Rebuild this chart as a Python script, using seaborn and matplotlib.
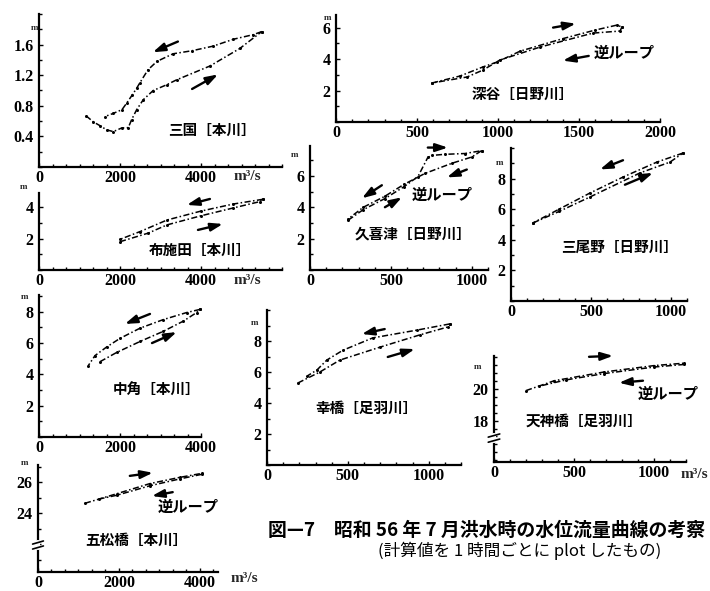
import matplotlib
matplotlib.use("Agg")
import matplotlib.pyplot as plt
import matplotlib.transforms as mtransforms
from matplotlib.ticker import MultipleLocator
import seaborn as sns

sns.set_theme(style="ticks")
plt.rcParams["font.family"] = ["Noto Sans CJK JP", "DejaVu Sans"]

W, H, DPI = 710, 591, 100

# ---- hourly computed stage (m) vs discharge (m3/s), rising and falling limbs ----
# 三国 [本川]
MIKUNI_RISE_Q = [1160, 1341, 1506, 1671, 1834, 2042, 2205, 2288, 2412, 2575, 2820,
                 3153, 3400, 4220, 4960, 5500]
MIKUNI_RISE_H = [0.67, 0.59, 0.54, 0.485, 0.463, 0.51, 0.515, 0.62, 0.75, 0.88, 1.00,
                 1.075, 1.14, 1.32, 1.55, 1.77]
MIKUNI_FALL_Q = [5500, 5290, 4800, 4300, 3780, 3310, 2910, 2690, 2490, 2412, 2300,
                 2165, 2050, 1830, 1630]
MIKUNI_FALL_H = [1.77, 1.73, 1.67, 1.58, 1.52, 1.48, 1.38, 1.27, 1.10, 1.03, 0.94,
                 0.835, 0.75, 0.70, 0.66]

# 深谷 [日野川]
FUKAYA_RISE_Q = [593, 765, 907, 994, 1136, 1401, 1599, 1735, 1765]
FUKAYA_RISE_H = [2.48, 2.92, 3.50, 3.81, 4.50, 5.30, 5.84, 6.16, 6.03]
FUKAYA_FALL_Q = [1765, 1753, 1586, 1259, 1012, 907, 809, 593]
FUKAYA_FALL_H = [6.03, 5.78, 5.65, 4.76, 3.94, 3.30, 2.86, 2.48]

# 布施田 [本川]
FUSEDA_RISE_Q = [2000, 2700, 3160, 4000, 4800, 5450, 5530]
FUSEDA_RISE_H = [1.80, 2.35, 2.87, 3.45, 3.95, 4.35, 4.50]
FUSEDA_FALL_Q = [5530, 4800, 4000, 3160, 2500, 2000]
FUSEDA_FALL_H = [4.50, 4.20, 3.75, 3.18, 2.45, 1.95]

# 久喜津 [日野川]
KUKIZU_RISE_Q = [235, 330, 463, 580, 667, 728, 753, 833, 957, 1060]
KUKIZU_RISE_H = [3.17, 3.85, 4.55, 5.30, 5.95, 7.17, 7.30, 7.37, 7.42, 7.60]
KUKIZU_FALL_Q = [1060, 1000, 877, 710, 580, 463, 330, 235]
KUKIZU_FALL_H = [7.60, 7.20, 6.80, 6.15, 5.45, 4.70, 4.00, 3.25]

# 三尾野 [日野川]
MIONO_RISE_Q = [137, 300, 494, 806, 994, 1075]
MIONO_RISE_H = [5.10, 5.85, 6.80, 8.37, 9.08, 9.67]
MIONO_FALL_Q = [1075, 912, 700, 494, 300, 137]
MIONO_FALL_H = [9.67, 9.08, 8.10, 7.06, 6.00, 5.10]

# 中角 [本川]
NAKATSUNO_RISE_Q = [1506, 1918, 2494, 3070, 3563, 3893, 3975]
NAKATSUNO_RISE_H = [4.81, 5.40, 6.10, 6.75, 7.40, 7.95, 8.15]
NAKATSUNO_FALL_Q = [3975, 3647, 3070, 2494, 2000, 1671, 1383, 1217]
NAKATSUNO_FALL_H = [8.15, 7.95, 7.50, 6.95, 6.30, 5.75, 5.20, 4.56]

# 幸橋 [足羽川]
SAIWAI_RISE_Q = [191, 327, 451, 698, 944, 1117, 1130]
SAIWAI_RISE_H = [5.29, 6.00, 6.77, 7.60, 8.39, 8.90, 9.10]
SAIWAI_FALL_Q = [1130, 926, 654, 469, 370, 309, 250]
SAIWAI_FALL_H = [9.10, 8.70, 8.20, 7.40, 6.77, 6.13, 5.75]

# 天神橋 [足羽川]
TENJIN_RISE_Q = [200, 377, 690, 1002, 1190]
TENJIN_RISE_H = [19.88, 20.50, 21.05, 21.45, 21.60]
TENJIN_FALL_Q = [1190, 1002, 690, 450, 280]
TENJIN_FALL_H = [21.52, 21.36, 20.95, 20.55, 20.15]

# 五松橋 [本川]
GOMATSU_RISE_Q = [1160, 1950, 2765, 3500, 4050]
GOMATSU_RISE_H = [24.63, 25.25, 25.90, 26.30, 26.56]
GOMATSU_FALL_Q = [4050, 3500, 2765, 1950, 1500]
GOMATSU_FALL_H = [26.50, 26.20, 25.76, 25.15, 24.90]

STATION_NAMES = ["三国［本川］", "深谷［日野川］", "布施田［本川］", "久喜津［日野川］",
                 "三尾野［日野川］", "中角［本川］", "幸橋［足羽川］", "天神橋［足羽川］",
                 "五松橋［本川］"]
REVERSE_LOOP = "逆ループ"
CAPTION_1 = "図—7　昭和 56 年 7 月洪水時の水位流量曲線の考察"
CAPTION_2 = "(計算値を 1 時間ごとに plot したもの)"

TICK_FONT = {"family": "Liberation Serif", "weight": "bold", "size": 11.5}
CJK = ["Noto Sans CJK JP", "DejaVu Sans"]

fig = plt.figure(figsize=(W / DPI, H / DPI), dpi=DPI)
fig.patch.set_facecolor("white")


def rect(left, top, right, bottom):
    return [left / W, 1 - bottom / H, (right - left) / W, (bottom - top) / H]


def fxy(x, y):
    return x / W, 1 - y / H


def panel(box, xlim, ylim, xticks, yticks, ylabels, xminor, yminor, curves):
    ax = fig.add_axes(rect(*box))
    ax.set_facecolor("white")
    for q, h in curves:
        sns.lineplot(x=q, y=h, sort=False, estimator=None, ax=ax, color="black",
                     lw=1.1, linestyle=(0, (4, 1.6, 1, 1.6)), marker="o",
                     markersize=2.2, markeredgewidth=0)
    ax.set_xlim(*xlim)
    ax.set_ylim(*ylim)
    for s in ("top", "right"):
        ax.spines[s].set_visible(False)
    for s in ("left", "bottom"):
        ax.spines[s].set_linewidth(1.6)
        ax.spines[s].set_color("black")
    ax.set_xticks(xticks)
    ax.set_xticklabels([str(t) for t in xticks], fontdict=TICK_FONT)
    ax.set_yticks(yticks)
    ax.set_yticklabels(ylabels, fontdict=TICK_FONT)
    ax.xaxis.set_minor_locator(MultipleLocator(xminor))
    ax.yaxis.set_minor_locator(MultipleLocator(yminor))
    ax.tick_params(which="both", direction="in", color="black", width=1.0,
                   labelcolor="black")
    ax.tick_params(which="major", length=3)
    ax.tick_params(axis="x", which="major", pad=2)
    ax.tick_params(axis="y", which="major", pad=4)
    ax.tick_params(which="minor", length=2)
    ax.grid(False)
    ax.set_xlabel("")
    ax.set_ylabel("")
    return ax


def arrow(ax, x0, y0, x1, y1):
    ax.annotate("", xy=(x1, y1), xytext=(x0, y0), annotation_clip=False,
                arrowprops=dict(arrowstyle="-|>,head_length=0.6,head_width=0.2",
                                lw=1.7, color="black", shrinkA=0, shrinkB=0))


def label(ax, x, y, text, size=10.5):
    ax.text(x, y, text, ha="center", va="center", fontsize=size,
            fontweight="bold", family=CJK, color="black")


def axis_break(ax, yval, span):
    trans = mtransforms.blended_transform_factory(ax.transAxes, ax.transData)
    ax.plot([0, 0], [yval - span, yval + span], transform=trans, color="white",
            lw=3, clip_on=False, zorder=5)
    for dy in (-span * 0.8, span * 0.8):
        ax.plot([-0.03, 0.03], [yval + dy - span * 0.5, yval + dy + span * 0.5],
                transform=trans, color="black", lw=1.2, clip_on=False, zorder=6)


def unit_m(x, y):
    fig.text(*fxy(x, y), "m", ha="center", va="center", family="Liberation Serif",
             weight="bold", fontsize=6.5)


def unit_flow(x, y):
    fig.text(*fxy(x, y), "m³/s", ha="center", va="center", family="Liberation Serif",
             weight="bold", fontsize=11)


# 三国
ax = panel((39, 14, 282, 167), (0, 6000), (0, 2.0), [0, 2000, 4000],
           [0.4, 0.8, 1.2, 1.6], ["0.4", "0.8", "1.2", "1.6"], 2000 / 6, 0.2,
           [(MIKUNI_RISE_Q, MIKUNI_RISE_H), (MIKUNI_FALL_Q, MIKUNI_FALL_H)])
label(ax, 4270, 0.49, STATION_NAMES[0])
arrow(ax, 3430, 1.64, 2810, 1.50)
arrow(ax, 3780, 1.02, 4420, 1.21)
unit_m(35, 28)
unit_flow(247, 177)

# 深谷
ax = panel((336, 15, 660, 122), (0, 2000), (0, 6.8), [0, 500, 1000, 1500, 2000],
           [2, 4, 6], ["2", "4", "6"], 100, 1,
           [(FUKAYA_RISE_Q, FUKAYA_RISE_H), (FUKAYA_FALL_Q, FUKAYA_FALL_H)])
label(ax, 1154, 1.78, STATION_NAMES[1])
label(ax, 1778, 4.38, REVERSE_LOOP, 11)
arrow(ax, 1340, 6.0, 1480, 6.25)
arrow(ax, 1560, 4.2, 1400, 3.9)
unit_m(328, 18)

# 布施田
ax = panel((39, 193, 282, 270), (0, 6000), (0, 4.9), [0, 2000, 4000],
           [2, 4], ["2", "4"], 2000 / 6, 1,
           [(FUSEDA_RISE_Q, FUSEDA_RISE_H), (FUSEDA_FALL_Q, FUSEDA_FALL_H)])
label(ax, 3975, 1.27, STATION_NAMES[2])
arrow(ax, 4220, 4.52, 3650, 4.14)
arrow(ax, 3925, 2.55, 4540, 2.93)
unit_m(24, 187)
unit_flow(247, 281)

# 久喜津
ax = panel((310, 146, 488, 270), (0, 1100), (0, 7.9), [0, 500, 1000],
           [2, 4, 6], ["2", "4", "6"], 100, 1,
           [(KUKIZU_RISE_Q, KUKIZU_RISE_H), (KUKIZU_FALL_Q, KUKIZU_FALL_H)])
label(ax, 640, 2.35, STATION_NAMES[3])
label(ax, 815, 4.76, REVERSE_LOOP, 11)
arrow(ax, 728, 7.8, 852, 7.8)
arrow(ax, 969, 6.4, 846, 5.9)
arrow(ax, 444, 5.4, 321, 4.57)
arrow(ax, 463, 4.0, 568, 4.63)
unit_m(295, 155)

# 三尾野
ax = panel((511, 148, 687, 301), (0, 1100), (0, 10), [0, 500, 1000],
           [2, 4, 6, 8], ["2", "4", "6", "8"], 100, 1,
           [(MIONO_RISE_Q, MIONO_RISE_H), (MIONO_FALL_Q, MIONO_FALL_H)])
label(ax, 681, 3.53, STATION_NAMES[4])
arrow(ax, 700, 9.2, 556, 8.6)
arrow(ax, 712, 7.6, 887, 8.37)
unit_m(500, 163)

# 中角
ax = panel((39, 295, 201, 437), (0, 4000), (0, 9.07), [0, 2000, 4000],
           [2, 4, 6, 8], ["2", "4", "6", "8"], 2000 / 6, 1,
           [(NAKATSUNO_RISE_Q, NAKATSUNO_RISE_H), (NAKATSUNO_FALL_Q, NAKATSUNO_FALL_H)])
label(ax, 2900, 3.0, STATION_NAMES[5])
arrow(ax, 2740, 7.86, 2120, 7.22)
arrow(ax, 2790, 6.0, 3400, 6.7)
unit_m(25, 297)

# 幸橋
ax = panel((267, 310, 461, 465), (0, 1200), (0, 10), [0, 500, 1000],
           [2, 4, 6, 8], ["2", "4", "6", "8"], 100, 1,
           [(SAIWAI_RISE_Q, SAIWAI_RISE_H), (SAIWAI_FALL_Q, SAIWAI_FALL_H)])
label(ax, 617, 3.68, STATION_NAMES[6])
arrow(ax, 728, 8.77, 586, 8.45)
arrow(ax, 747, 6.97, 914, 7.48)
unit_m(255, 323)

# 天神橋
ax = panel((494, 356, 686, 462), (0, 1200), (15.4, 22.05), [0, 500, 1000],
           [18, 20], ["18", "20"], 100, 0.5,
           [(TENJIN_RISE_Q, TENJIN_RISE_H), (TENJIN_FALL_Q, TENJIN_FALL_H)])
label(ax, 563, 18.0, STATION_NAMES[7])
label(ax, 1087, 19.7, REVERSE_LOOP, 11)
arrow(ax, 594, 22.0, 744, 22.06)
arrow(ax, 931, 20.5, 781, 20.37)
axis_break(ax, 16.9, 0.2)
unit_m(478, 367)
unit_flow(694, 475)

# 五松橋
ax = panel((38, 465, 218, 572), (0, 4450), (20.2, 27.1), [0, 2000, 4000],
           [24, 26], ["24", "26"], 2000 / 6, 1,
           [(GOMATSU_RISE_Q, GOMATSU_RISE_H), (GOMATSU_FALL_Q, GOMATSU_FALL_H)])
label(ax, 2440, 22.26, STATION_NAMES[8])
label(ax, 3700, 24.39, REVERSE_LOOP, 11)
arrow(ax, 2270, 26.4, 2840, 26.6)
arrow(ax, 3330, 25.35, 2815, 25.1)
axis_break(ax, 21.94, 0.2)
unit_m(25, 463)
unit_flow(244, 578)

# figure caption
fig.text(*fxy(268, 530), CAPTION_1, ha="left", va="center", family=CJK,
         weight="bold", fontsize=13.6, color="black")
fig.text(*fxy(378, 551), CAPTION_2, ha="left", va="center", family=CJK,
         fontsize=12, color="black")

fig.savefig("out.png", dpi=DPI, facecolor="white")
